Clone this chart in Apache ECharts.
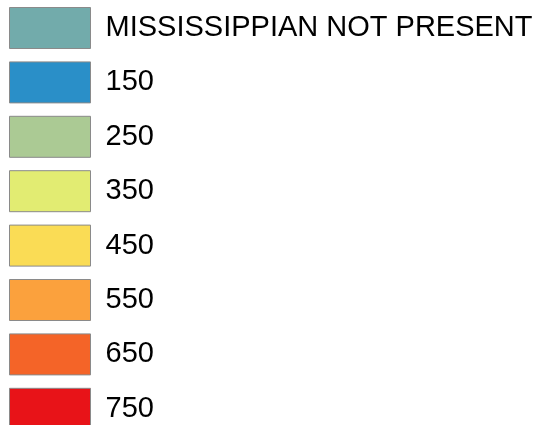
<!DOCTYPE html>
<html>
<head>
<meta charset="utf-8">
<script src="https://cdn.jsdelivr.net/npm/echarts@6/dist/echarts.min.js"></script>
<style>
  html, body { margin: 0; padding: 0; background: #fff; }
  #chart { width: 538px; height: 425px; }
</style>
</head>
<body>
<div id="chart"></div>
<script>
// legend classes and their fill colours
const labels = ['MISSISSIPPIAN NOT PRESENT', '150', '250', '350', '450', '550', '650', '750']
const colors = ['#72abab', '#2a8fc8', '#abca94', '#e2ec72', '#fadc55', '#fba13d', '#f46428', '#e81318']

let chart = echarts.init(document.getElementById('chart'))

chart.setOption({
  animation: false,
  legend: {
    orient: 'vertical',
    left: 9,
    top: 7,
    height: 600,
    padding: 0,
    icon: 'rect',
    itemWidth: 81,
    itemHeight: 41,
    itemGap: 12.4,
    selectedMode: false,
    itemStyle: {
      borderColor: '#8a8a8a',
      borderWidth: 1
    },
    textStyle: {
      fontFamily: 'Liberation Sans, Arial, sans-serif',
      fontSize: 29,
      color: '#000',
      padding: [0, 0, 0, 10]
    },
    data: labels
  },
  series: [
    {
      type: 'pie',
      radius: 0,
      center: [-200, -200],
      silent: true,
      label: { show: false },
      data: labels.map((name, i) => ({
        name: name,
        value: 1,
        itemStyle: { color: colors[i] }
      }))
    }
  ]
})
</script>
</body>
</html>
